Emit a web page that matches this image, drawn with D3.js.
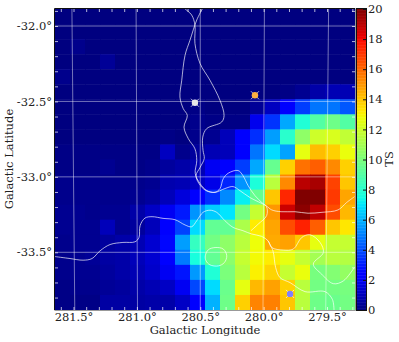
<!DOCTYPE html>
<html>
<head>
<meta charset="utf-8">
<script src="https://cdn.jsdelivr.net/npm/d3@7"></script>
<style>
  html, body { margin: 0; padding: 0; background: #fff; }
  text { font-family: "DejaVu Serif", serif; fill: #222; }
</style>
</head>
<body>
<div class="chart"></div>
<script>
const svgWidth = 399
const svgHeight = 342

let margin = { top: 9, left: 55, bottom: 310, right: 355 }

// TS value of every map pixel, top row first
const tsRows = [
  [0,0,0,0,0,0,0,0,0,0,0,0,0,0,0,0,0,0,0,0],
  [0,0,0,0,0,0,0,0,0,0,0,0,0,0,0,0,0,0,0,0],
  [0,.2,0,0,0,0,0,0,0,0,0,0,0,0,0,0,0,0,0,0],
  [0,0,0,.4,0,0,0,0,0,0,0,0,0,0,0,0,0,0,0,0],
  [.2,0,0,0,0,0,0,0,0,0,0,0,0,0,0,0,0,0,0,0],
  [0,0,0,0,0,0,0,0,0,0,0,0,0,0,0,.1,.3,.7,.9,.9],
  [0,0,0,0,0,0,0,0,0,.1,0,0,0,.4,1.1,2.2,3.7,4.8,4.8,4.2],
  [0,0,0,0,0,0,0,0,0,.2,.1,.1,.1,1.9,3.5,5.8,7.8,9,9.7,9],
  [0,0,0,0,0,0,0,.1,0,.2,.3,1,2.3,3.4,5.6,8,10.5,12,12.3,11.7],
  [.1,.1,.1,.1,.1,.1,.1,1.1,.2,.5,.9,1,2.5,4.8,6.8,5.7,12.6,14.2,13.8,12.7],
  [.1,.1,.1,.3,.1,.1,.2,.5,.7,.9,2,2.3,3.7,5.8,9.5,13.8,15.8,16.2,15.3,13.8],
  [.2,.2,.2,.2,.2,.2,.3,.8,.9,1.2,1.8,3.2,5.4,7.7,11.5,15.3,19,19.3,16.8,14],
  [.2,.2,.2,.2,.2,.3,.5,1,1.6,2.2,3.4,5.2,7.2,9.5,14,17.4,20,20,17,14.7],
  [.3,.3,.2,.3,.3,.7,1.2,2,3,5.4,6.5,7,9.8,11.8,15,18.7,19.8,18.9,16.6,14.3],
  [.3,.3,.3,1,.3,.5,1,2.4,3.8,6.8,9.4,9.4,11.2,13.2,14.7,16.6,17.5,16.2,14,13.3],
  [.2,.3,.3,.5,.7,.9,1.4,2.6,5.6,8.3,9.8,10.5,11.5,12.8,14.6,14.8,14,12.6,11.8,11.8],
  [.2,.3,.4,.6,.7,1,1.4,2.5,4.9,7.6,9.4,10.4,11.8,12.9,13.2,12.6,11.8,11,11.5,11.4],
  [.2,.3,.3,.5,.7,.9,1.3,2,2.9,5.5,7.8,10,11.5,13.1,13.7,11.8,12.7,9.9,10.2,10.6],
  [.1,.2,.2,.4,.5,.7,.9,1.2,2,3.9,6.8,9.6,12.6,14.3,14.8,13.8,11.5,9.8,9.8,9.9],
  [.1,.1,.1,.6,.6,.6,.7,.7,1.2,2.3,6,9.7,13.8,15.4,15.5,14,11.5,9.7,9.6,9.8]
]

// map pixel coordinates of the white contours
const contourLeft = [[0,16.45],[1,16.58],[1.87,16.69],[2.47,16.58],[3,16.07],[3.67,15.65],[4.53,15.51],[5.33,15.47],[5.6,15.18],[5.67,14.4],[6,13.89],[6.47,13.8],[7.2,13.91],[8,14],[8.67,14.35],[9.11,14.47],[9.45,14.07],[9.87,13.51],[10.33,13.37],[10.78,13.51],[11.33,14.07],[11.87,14.51],[12.53,14.73],[13.11,14.95],[13.78,15.11],[14.2,15.4],[14.45,15.85],[15.22,16.02],[15.89,15.95],[16.45,15.18],[17,15],[17.67,15.51],[17.89,16.18],[17.22,16.95],[17.78,17.62],[18.55,18.25],[19.22,18.07],[19.95,17.18]]
const contourBranch = [[14.2,15.4],[14.53,16.07],[14.71,17.18],[15,17.85],[15.67,18.18],[16.67,18.78],[18,18.78],[18.49,19.29],[18.6,20]]
const contourNorthA = [[9.82,0],[9.45,.73],[9,2.07],[8.67,3.07],[8.45,4.73],[8.33,5.85],[8.55,6.62],[8.82,7.07],[8.6,7.85],[8.89,8.62],[9.33,9.29],[9.45,10.07],[9.35,10.93],[9.67,11.6],[10.13,12.07],[10.67,12.18],[11,11.93],[11.22,11.27],[11.55,10.91],[12.2,10.73],[12.53,11.07],[12.87,11.73],[13.33,12.4],[13.8,12.87],[14.1,13.13],[14.11,13.73],[13.55,14.29],[13.07,14.73]]
const contourNorthB = [[8.67,0],[9.11,.4],[9.33,1.07],[9.33,2.29],[9.67,3.62],[10.33,4.73],[11,6.07],[11.27,7.07],[11.11,7.51],[10.11,7.95],[9.85,8.51],[9.87,9.4],[9.95,9.93],[9.67,10.53],[9.4,11.07],[9.6,11.6],[10.07,12.07],[10.67,12.18],[11.33,11.93],[11.87,11.8],[12.33,12.07],[13,12.53],[14.07,13.07],[14.45,13.35],[15.07,13.47],[16,13.47],[16.87,13.57],[17.8,13.51],[18.87,13.35],[19.45,12.85],[19.97,12.47]]
const contourLoop = [[10.02,16.4],[10.22,16],[10.67,15.85],[11.22,15.95],[11.45,16.4],[11.29,16.85],[10.89,17.07],[10.33,17],[10.07,16.73]]

// sources on the map: column, row, fill
const sources = [
  [9.33, 6.23, "#e8e8e8"],
  [13.33, 5.73, "#ffb040"],
  [15.67, 18.93, "#8080ff"]
]

const lonTicks = [281.5, 281, 280.5, 280, 279.5]
const latTicks = [-32, -32.5, -33, -33.5]
const tsTicks = [0, 2, 4, 6, 8, 10, 12, 14, 16, 18, 20]

const cols = d3.scaleLinear().domain([0, 20]).range([margin.left, margin.right])
const rows = d3.scaleLinear().domain([0, 20]).range([margin.top, margin.bottom])

// sky scales, taken at latitude -33
const lonScale = d3.scaleLinear().domain([281.5, 279.5]).range([73.5, 327])
const latScale = d3.scaleLinear().domain([-32, -33.5]).range([26, 252.3])

// meridians converge towards the pole, the map is a tangent projection
function skyX(lon, lat) {
  let squeeze = Math.cos(lat * Math.PI / 180) / Math.cos(-33 * Math.PI / 180)
  return lonScale(280.5 + (lon - 280.5) * squeeze)
}

// matplotlib jet
const jet = d3
  .scaleLinear()
  .domain([0, .11, .125, .34, .35, .375, .64, .65, .66, .89, .91, 1])
  .range(["#000080", "#0000ff", "#0000ff", "#00dbff", "#00e5ff", "#14ffe2", "#eeff08", "#f7f500", "#ffec00", "#ff1300", "#e80000", "#800000"])
  .interpolate(d3.interpolateRgb)
const tsColor = v => jet(v / 20)

let svg = d3
  .select(".chart")
  .append("svg")
  .attr("width", svgWidth)
  .attr("height", svgHeight)
  .style("display", "block")

svg
  .append("g")
  .selectAll("g")
  .data(tsRows)
  .enter()
  .append("g")
  .each(function(row, r) {
    d3.select(this)
      .selectAll("rect")
      .data(row)
      .enter()
      .append("rect")
      .attr("x", (d, c) => cols(c))
      .attr("y", rows(r))
      .attr("width", cols(1) - cols(0) + .5)
      .attr("height", rows(1) - rows(0) + .5)
      .attr("fill", d => tsColor(d))
  })

// coordinate grid
let gridLine = d3.line().x(d => d[0]).y(d => d[1])
let gridGroup = svg.append("g").attr("fill", "none").attr("stroke", "#fff").attr("stroke-opacity", .45)

lonTicks.forEach(lon => {
  gridGroup
    .append("path")
    .attr("d", gridLine([[skyX(lon, -31.88), margin.top], [skyX(lon, -33.88), margin.bottom]]))
})
latTicks.forEach(lat => {
  gridGroup
    .append("path")
    .attr("d", gridLine([[margin.left, latScale(lat)], [margin.right, latScale(lat)]]))
})

// contours
let contourLine = d3.line().x(d => cols(d[0])).y(d => rows(d[1])).curve(d3.curveCatmullRom)
let contourGroup = svg.append("g").attr("fill", "none").attr("stroke", "#fff").attr("stroke-opacity", .75).attr("stroke-width", .9)

;[contourLeft, contourBranch, contourNorthA, contourNorthB].forEach(points => {
  contourGroup.append("path").attr("d", contourLine(points))
})
contourGroup
  .append("path")
  .attr("d", contourLine.curve(d3.curveCatmullRomClosed)(contourLoop))

// sources
let sourceGroup = svg
  .append("g")
  .selectAll("g")
  .data(sources)
  .enter()
  .append("g")
  .attr("transform", d => `translate(${cols(d[0])}, ${rows(d[1])})`)

sourceGroup
  .append("path")
  .attr("d", "M-4,-4L4,4M-4,4L4,-4")
  .attr("stroke", "#fff")
  .attr("stroke-opacity", .7)

sourceGroup
  .append("circle")
  .attr("r", 3.2)
  .attr("fill", d => d[2])

// frame and minor ticks
let frame = svg.append("g")

function whiteTicks(axis, translate) {
  let g = frame.append("g").attr("transform", translate).call(axis.tickFormat("").tickSizeOuter(0))
  g.select(".domain").remove()
  g.selectAll("line").attr("stroke", "#fff").attr("stroke-opacity", .7)
}

let minorLat = d3.range(-31.9, -33.85, -.1)
let minorLon = d3.range(281.6, 279.3, -.1)
whiteTicks(d3.axisLeft(latScale).tickValues(minorLat).tickSize(-3), `translate(${margin.left}, 0)`)
whiteTicks(d3.axisRight(latScale).tickValues(minorLat).tickSize(-3), `translate(${margin.right}, 0)`)
whiteTicks(d3.axisTop(lonScale).tickValues(minorLon).tickSize(-3), `translate(0, ${margin.top})`)
whiteTicks(d3.axisBottom(lonScale).tickValues(minorLon).tickSize(-3), `translate(0, ${margin.bottom})`)

frame
  .append("path")
  .attr("d", `M${margin.left - .5},${margin.bottom}V${margin.top - .5}H${margin.right}`)
  .attr("fill", "none")
  .attr("stroke", "#111")
frame
  .append("path")
  .attr("d", `M${margin.left - .5},${margin.bottom + .5}H${margin.right + .5}V${margin.top - .5}`)
  .attr("fill", "none")
  .attr("stroke", "#999")

// tick labels
let xAxis = svg
  .append("g")
  .attr("transform", `translate(0, ${margin.bottom})`)
  .call(d3.axisBottom(lonScale).tickValues(lonTicks).tickSize(0).tickPadding(3).tickFormat(d => d3.format(".1f")(d) + "°"))
xAxis.select(".domain").remove()
xAxis.selectAll("text").style("font-size", "11.5px").style("font-family", '"DejaVu Serif"')

let yAxis = svg
  .append("g")
  .attr("transform", `translate(${margin.left}, 0)`)
  .call(d3.axisLeft(latScale).tickValues(latTicks).tickSize(0).tickPadding(3).tickFormat(d => d3.format(".1f")(d).replace("−", "-") + "°"))
yAxis.select(".domain").remove()
yAxis.selectAll("text").style("font-size", "11.5px").style("font-family", '"DejaVu Serif"')

svg
  .append("text")
  .attr("x", 205)
  .attr("y", 334)
  .attr("text-anchor", "middle")
  .style("font-size", "11.5px")
  .text("Galactic Longitude")

svg
  .append("text")
  .attr("transform", "rotate(-90)")
  .attr("x", -159)
  .attr("y", 13)
  .attr("text-anchor", "middle")
  .style("font-size", "11.5px")
  .text("Galactic Latitude")

// colour bar
const barLeft = 357
const barWidth = 9
let barScale = d3.scaleLinear().domain([0, 20]).range([margin.bottom, margin.top])
let barSteps = d3.range(0, 20, .1)

svg
  .append("g")
  .selectAll("rect")
  .data(barSteps)
  .enter()
  .append("rect")
  .attr("x", barLeft)
  .attr("y", d => barScale(d + .1))
  .attr("width", barWidth)
  .attr("height", barScale(0) - barScale(.1) + .4)
  .attr("fill", d => tsColor(d + .05))

svg
  .append("rect")
  .attr("x", barLeft - .5)
  .attr("y", margin.top - .5)
  .attr("width", barWidth + 1)
  .attr("height", margin.bottom - margin.top + 1)
  .attr("fill", "none")
  .attr("stroke", "#111")

let barAxis = svg
  .append("g")
  .attr("transform", `translate(${barLeft + barWidth}, 0)`)
  .call(d3.axisRight(barScale).tickValues(tsTicks).tickSize(-3).tickPadding(6).tickFormat(d3.format("d")))
barAxis.select(".domain").remove()
barAxis.selectAll("line").attr("stroke", "#111")
barAxis.selectAll("text").attr("x", 2).style("font-size", "11.5px").style("font-family", '"DejaVu Serif"')

svg
  .append("text")
  .attr("transform", "rotate(-90)")
  .attr("x", -159)
  .attr("y", 393)
  .attr("text-anchor", "middle")
  .style("font-size", "11.5px")
  .text("TS")
</script>
</body>
</html>
